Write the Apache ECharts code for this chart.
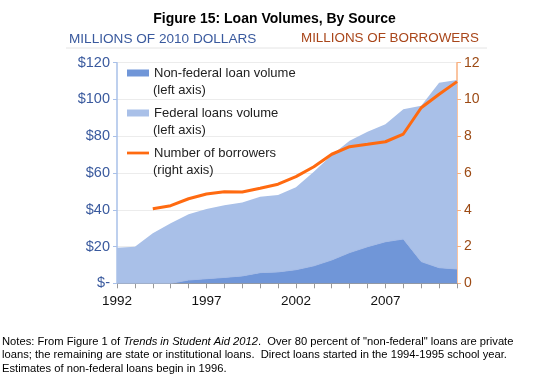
<!DOCTYPE html>
<html>
<head>
<meta charset="utf-8">
<script src="https://cdn.jsdelivr.net/npm/echarts@6/dist/echarts.min.js"></script>
<style>
html,body{margin:0;padding:0;background:#fff;}
#chart{width:549px;height:381px;}
</style>
</head>
<body>
<div id="chart"></div>
<script>
const years = ['1992','1993','1994','1995','1996','1997','1998','1999','2000','2001','2002','2003','2004','2005','2006','2007','2008','2009','2010','2011'];
const nonFederal = [0,0,0,0,1.8,2.5,3.2,4.0,5.8,6.2,7.4,9.5,12.7,16.7,19.9,22.6,24.1,11.8,8.5,7.8];
const federal = [19.4,19.9,27.2,32.6,35.7,37.9,39.2,40.0,41.3,41.8,44.8,51.2,57.1,60.9,62.6,63.9,70.6,84.8,100.6,102.8];
const borrowers = [null,null,4.06,4.22,4.6,4.86,4.98,4.97,5.17,5.39,5.8,6.34,7.02,7.43,7.56,7.7,8.12,9.55,10.28,10.97];
const leftTicks = {0:'$-',20:'$20',40:'$40',60:'$60',80:'$80',100:'$100',120:'$120'};
const legendNames = ['Non-federal loan volume','Federal loans volume','Number of borrowers'];
const legendSubs = ['(left axis)','(left axis)','(right axis)'];

const FONT = 'Liberation Sans, Arial, sans-serif';
const chart = echarts.init(document.getElementById('chart'), null, {renderer:'canvas'});

const subGraphics = legendSubs.map(function(t, i){
  return {type:'text', left:153, top:84 + i*40, silent:true, z:100,
    style:{text:t, fontFamily:FONT, fontSize:13, fill:'#222'}};
});

chart.setOption({
  animation:false,
  backgroundColor:'#fff',
  textStyle:{fontFamily:FONT},
  title:[
    {text:'Figure 15: Loan Volumes, By Source', left:'center', top:7,
     textStyle:{fontFamily:FONT, fontSize:14, fontWeight:'bold', color:'#000'}},
    {text:'MILLIONS OF 2010 DOLLARS', left:64, top:27,
     textStyle:{fontFamily:FONT, fontSize:13.6, fontWeight:'normal', color:'#3a5a9e'}},
    {text:'MILLIONS OF BORROWERS', left:296, top:27,
     textStyle:{fontFamily:FONT, fontSize:13.4, fontWeight:'normal', color:'#a9461a'}},
    {text:'Notes: From Figure 1 of {i|Trends in Student Aid 2012}.  Over 80 percent of "non-federal" loans are private\nloans; the remaining are state or institutional loans.  Direct loans started in the 1994-1995 school year.\nEstimates of non-federal loans begin in 1996.',
     left:-3, top:330,
     textStyle:{fontFamily:FONT, fontSize:11.2, fontWeight:'normal', color:'#000', lineHeight:13.4,
       rich:{i:{fontFamily:FONT, fontSize:11.2, fontStyle:'italic', color:'#000', lineHeight:13.4}}}}
  ],
  graphic:[
    {type:'line', shape:{x1:66,y1:48,x2:487,y2:48}, style:{stroke:'#e4e4e4', lineWidth:1}, silent:true}
  ].concat(subGraphics),
  legend:{
    left:122, top:59.5, orient:'vertical', itemGap:23,
    itemWidth:22, itemHeight:7,
    textStyle:{fontFamily:FONT, fontSize:13, color:'#222', lineHeight:17},
    data:[
      {name:legendNames[0], icon:'rect'},
      {name:legendNames[1], icon:'rect'},
      {name:legendNames[2], icon:'path://M0,0 L24,0 L24,3 L0,3 Z', itemStyle:{color:'#ff6a10'}}
    ]
  },
  grid:{left:117, right:92, top:62.7, bottom:97.7, containLabel:false},
  xAxis:{
    type:'category', data:years, boundaryGap:false,
    axisLine:{lineStyle:{color:'#999', width:1}},
    axisTick:{show:true, interval:0, length:5, lineStyle:{color:'#999'}},
    axisLabel:{interval:4, color:'#111', fontSize:13.5, fontFamily:FONT, margin:11},
    splitLine:{show:false}
  },
  yAxis:[
    {type:'value', min:0, max:120, interval:20, position:'left',
     axisLine:{show:true, lineStyle:{color:'#a9c0e8', width:1.5}},
     axisTick:{show:true, length:4, lineStyle:{color:'#a9c0e8'}},
     axisLabel:{color:'#3a5a9e', fontSize:14.5, fontFamily:FONT, margin:7,
       formatter:function(v){return leftTicks[v];}},
     splitLine:{show:true, lineStyle:{color:'#ececec', width:1}}
    },
    {type:'value', min:0, max:12, interval:2, position:'right',
     axisLine:{show:true, lineStyle:{color:'#f8b080', width:1.5}},
     axisTick:{show:true, length:4, lineStyle:{color:'#f8b080'}},
     axisLabel:{color:'#9c4a14', fontSize:14, fontFamily:FONT, margin:7},
     splitLine:{show:false}
    }
  ],
  series:[
    {name:legendNames[0], type:'line', stack:'loans', data:nonFederal, yAxisIndex:0,
     symbol:'none', color:'#7096d8', itemStyle:{color:'#7096d8'},
     lineStyle:{width:1, color:'#a6bce6'}, areaStyle:{color:'#7096d8', opacity:1}, z:2},
    {name:legendNames[1], type:'line', stack:'loans', data:federal, yAxisIndex:0,
     symbol:'none', color:'#a9c0e8', itemStyle:{color:'#a9c0e8'},
     lineStyle:{width:0}, areaStyle:{color:'#a9c0e8', opacity:1}, z:1},
    {name:legendNames[2], type:'line', data:borrowers, yAxisIndex:1,
     symbol:'none', color:'#ff6a10', itemStyle:{color:'#ff6a10'},
     lineStyle:{width:3, color:'#ff6a10'}, z:5}
  ]
});
</script>
</body>
</html>
